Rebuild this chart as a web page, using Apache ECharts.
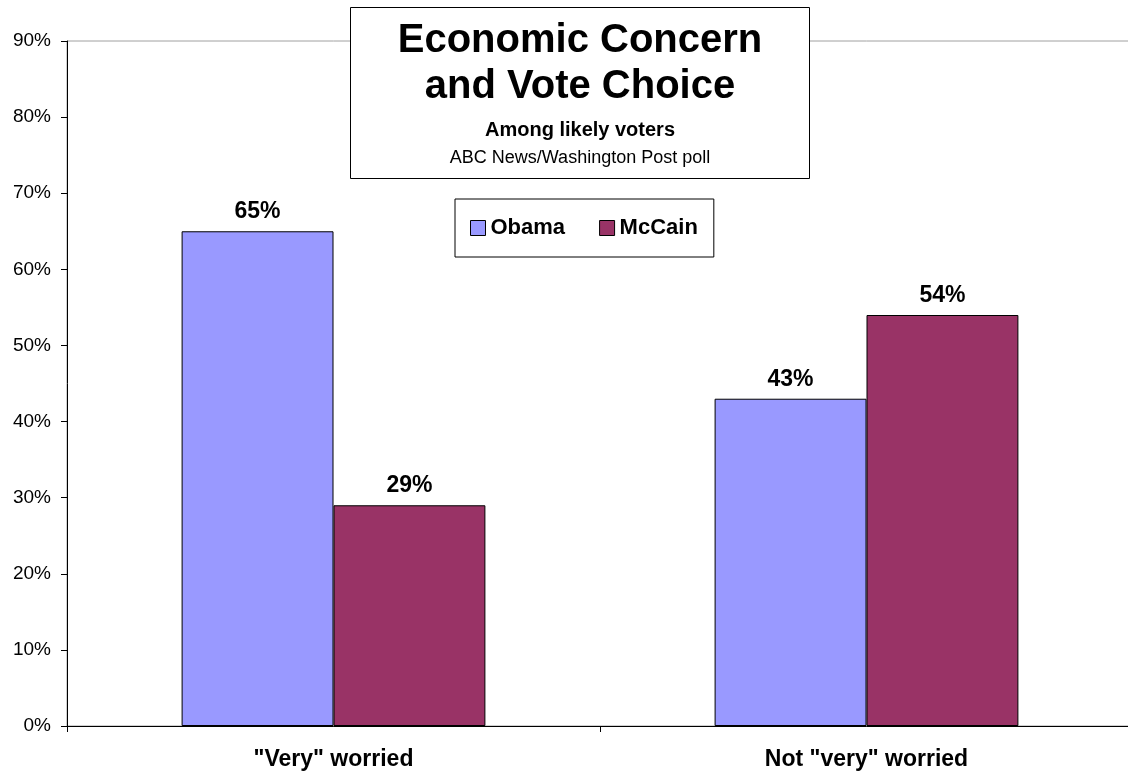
<!DOCTYPE html>
<html>
<head>
<meta charset="utf-8">
<script src="https://cdn.jsdelivr.net/npm/echarts@6/dist/echarts.min.js"></script>
<style>
html,body{margin:0;padding:0;background:#fff;overflow:hidden;width:1128px;height:774px;}
#chart{width:1134px;height:774px;}
</style>
</head>
<body>
<div id="chart"></div>
<script>
const categories = ['"Very" worried', 'Not "very" worried'];
const obama = [65, 43];
const mccain = [29, 54];
const seriesNames = ['Obama', 'McCain'];
const yTicks = [0, 90, 10];

const FONT = '"Liberation Sans", Arial, sans-serif';
const chart = echarts.init(document.getElementById('chart'));
const labelCfg = {
  show: true, position: 'top', distance: 8,
  formatter: p => p.value + '%',
  fontFamily: FONT, fontWeight: 'bold', fontSize: 23, color: '#000'
};
chart.setOption({
  backgroundColor: '#fff',
  animation: false,
  title: {
    text: 'Economic Concern\nand Vote Choice',
    subtext: '{b|Among likely voters}\n{n|ABC News/Washington Post poll}',
    left: 533, top: 7,
    textAlign: 'center',
    padding: [11, 47, 7, 47],
    itemGap: 6,
    backgroundColor: '#fff',
    borderColor: '#000', borderWidth: 1,
    textStyle: { fontFamily: FONT, fontWeight: 'bold', fontSize: 40, lineHeight: 46, color: '#000' },
    subtextStyle: {
      fontFamily: FONT, color: '#000', lineHeight: 28,
      rich: {
        b: { fontFamily: FONT, fontWeight: 'bold', fontSize: 20, lineHeight: 28, color: '#000' },
        n: { fontFamily: FONT, fontSize: 18, lineHeight: 28, color: '#000' }
      }
    },
    z: 10
  },
  legend: {
    data: seriesNames,
    left: 455, top: 199,
    padding: [18, 16, 18, 15],
    itemWidth: 15, itemHeight: 15, itemGap: 34,
    backgroundColor: '#fff', borderColor: '#000', borderWidth: 1,
    textStyle: { fontFamily: FONT, fontWeight: 'bold', fontSize: 22, color: '#000' },
    icon: 'rect',
    itemStyle: { borderColor: '#000', borderWidth: 1 },
    z: 10
  },
  grid: {
    left: 67, top: 41, right: 1, bottom: 48,
    show: true, borderColor: '#a0a0a0', borderWidth: 1,
    containLabel: false
  },
  xAxis: {
    type: 'category', data: categories,
    axisLine: { lineStyle: { color: '#000', width: 1 } },
    axisTick: { show: true, length: 6, lineStyle: { color: '#000' } },
    axisLabel: { fontFamily: FONT, fontWeight: 'bold', fontSize: 23, color: '#000', margin: 22 }
  },
  yAxis: {
    type: 'value', min: yTicks[0], max: yTicks[1], interval: yTicks[2],
    axisLine: { show: true, lineStyle: { color: '#000', width: 1 } },
    axisTick: { show: true, length: 6, lineStyle: { color: '#000' } },
    splitLine: { show: false },
    axisLabel: { formatter: '{value}%', fontFamily: FONT, fontSize: 19, color: '#000', margin: 16 }
  },
  series: [
    {
      name: seriesNames[0], type: 'bar', data: obama,
      barGap: '0%', barCategoryGap: '43%',
      itemStyle: { color: '#9999FF', borderColor: '#000', borderWidth: 1 },
      label: labelCfg
    },
    {
      name: seriesNames[1], type: 'bar', data: mccain,
      itemStyle: { color: '#993366', borderColor: '#000', borderWidth: 1 },
      label: labelCfg
    }
  ]
});
</script>
</body>
</html>
